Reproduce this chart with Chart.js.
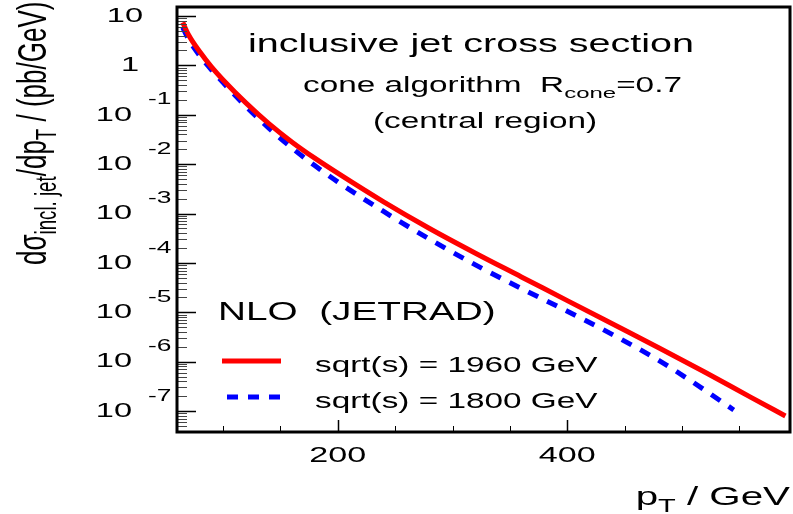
<!DOCTYPE html>
<html><head><meta charset="utf-8">
<script src="https://cdn.jsdelivr.net/npm/chart.js@4/dist/chart.umd.min.js"></script>
<style>html,body{margin:0;padding:0;background:#fff}canvas{display:block}</style>
</head><body>
<canvas id="c" width="793" height="514"></canvas>
<script>
// ---- data ----
const ptRed   = [65, 70, 80, 90, 100, 120, 140, 160, 180, 200, 240, 280, 320, 360, 400, 440, 480, 520, 560, 590];
const xsecRed = [7.41, 4.17, 1.86, 0.933, 0.513, 0.174, 0.0661, 0.0282, 0.0132, 6.55e-3, 1.72e-3, 4.97e-4, 1.57e-4, 5.20e-5, 1.72e-5, 5.70e-6, 1.89e-6, 6.08e-7, 1.89e-7, 7.94e-8];
const ptBlue   = [65, 70, 80, 90, 100, 120, 140, 160, 180, 200, 240, 280, 320, 360, 400, 440, 480, 520, 545];
const xsecBlue = [5.89, 3.39, 1.55, 0.813, 0.452, 0.148, 0.0537, 0.0214, 9.33e-3, 4.37e-3, 1.10e-3, 3.02e-4, 9.12e-5, 3.02e-5, 1.05e-5, 3.47e-6, 1.05e-6, 2.63e-7, 1.05e-7];
const seriesLabels = ['sqrt(s) = 1960 GeV', 'sqrt(s) = 1800 GeV'];
const legendHeader = 'NLO  (JETRAD)';
const xTickLabels = [200, 400];
const xMinorTicks = [100, 150, 250, 300, 350, 450, 500, 550];
const yDecades = [1, 0, -1, -2, -3, -4, -5, -6, -7];
const xRange = [60, 594];
const yRange = [3.76e-8, 15.2];

const FONT = '"Liberation Sans", Arial, Helvetica, sans-serif';
const SX = 1.55; // horizontal stretch of the reference text

function f(sz){ return sz + 'px ' + FONT; }
function stretchedText(ctx, str, x, y, sz, align, base){
  ctx.save();
  ctx.font = f(sz);
  ctx.textBaseline = base || 'alphabetic';
  const w = ctx.measureText(str).width * SX;
  let sx = x;
  if (align === 'right') sx = x - w; else if (align === 'center') sx = x - w/2;
  ctx.translate(sx, y); ctx.scale(SX, 1);
  ctx.textAlign = 'left';
  ctx.fillText(str, 0, 0);
  ctx.restore();
  return w;
}
function richText(ctx, segs, x, y, sz, align){
  ctx.save();
  let total = 0;
  const ws = segs.map(s => { ctx.font = f(s[1] ? sz*0.72 : sz); const w = ctx.measureText(s[0]).width*SX; total += w; return w; });
  let cx = x;
  if (align === 'right') cx = x - total; else if (align === 'center') cx = x - total/2;
  segs.forEach((s,i) => {
    const ssz = s[1] ? sz*0.72 : sz;
    ctx.save(); ctx.font = f(ssz); ctx.textBaseline='alphabetic'; ctx.textAlign='left';
    ctx.translate(cx, y + (s[1] ? sz*0.26 : 0)); ctx.scale(SX,1);
    ctx.fillText(s[0], 0, 0); ctx.restore();
    cx += ws[i];
  });
  ctx.restore();
}

const decor = {
  id: 'decor',
  afterDraw(chart){
    const ctx = chart.ctx, a = chart.chartArea;
    const xs = chart.scales.x, ys = chart.scales.y;
    ctx.save();
    ctx.fillStyle = '#000';
    // ticks
    ctx.strokeStyle = '#000';
    ctx.lineWidth = 1.5;
    yDecades.forEach(e => {
      const py = Math.round(ys.getPixelForValue(Math.pow(10, e))) + 0.5;
      ctx.beginPath(); ctx.moveTo(a.left, py); ctx.lineTo(a.left + 19, py); ctx.stroke();
    });
    ctx.lineWidth = 1; ctx.strokeStyle = '#444';
    for (let d = -8; d <= 1; d++) {
      for (let m = 2; m <= 9; m++) {
        const v = m * Math.pow(10, d);
        if (v < yRange[0] || v > yRange[1]) continue;
        const py = Math.round(ys.getPixelForValue(v)) + 0.5;
        ctx.beginPath(); ctx.moveTo(a.left, py); ctx.lineTo(a.left + 10, py); ctx.stroke();
      }
    }
    ctx.strokeStyle = '#000'; ctx.lineWidth = 1.5;
    xTickLabels.forEach(v => {
      const px = Math.round(xs.getPixelForValue(v)) + 0.5;
      ctx.beginPath(); ctx.moveTo(px, a.bottom); ctx.lineTo(px, a.bottom - 12); ctx.stroke();
    });
    ctx.lineWidth = 1;
    xMinorTicks.forEach(v => {
      const px = Math.round(xs.getPixelForValue(v)) + 0.5;
      ctx.beginPath(); ctx.moveTo(px, a.bottom); ctx.lineTo(px, a.bottom - 6); ctx.stroke();
    });
    // frame
    ctx.lineWidth = 3; ctx.strokeStyle = '#000';
    ctx.strokeRect(a.left, a.top, a.right - a.left, a.bottom - a.top);

    // y tick labels
    yDecades.forEach(e => {
      const py = ys.getPixelForValue(Math.pow(10, e));
      if (e === 1) stretchedText(ctx, '10', 143, py, 21, 'right', 'middle');
      else if (e === 0) stretchedText(ctx, '1', 139, py, 21, 'right', 'middle');
      else {
        stretchedText(ctx, '10', 132, py, 21, 'right', 'middle');
        stretchedText(ctx, String(e), 148, py - 15, 17, 'left', 'middle');
      }
    });
    // x tick labels
    xTickLabels.forEach(v => {
      stretchedText(ctx, String(v), xs.getPixelForValue(v), 456, 22, 'center', 'middle');
    });
    // x title
    richText(ctx, [['p',0],['T',1],[' / GeV',0]], 790, 505, 26, 'right');
    // y title (rotated)
    ctx.save();
    ctx.translate(46, 265); ctx.rotate(-Math.PI/2); ctx.scale(1, SX);
    let cx = 0; const F = 26;
    [['d\u03C3',0],['incl. jet',1],['/dp',0],['T',1],[' / (pb/GeV)',0]].forEach(s => {
      const sz = s[1] ? F*0.72 : F;
      ctx.font = f(sz); ctx.textAlign='left'; ctx.textBaseline='alphabetic';
      ctx.fillText(s[0], cx, s[1] ? F*0.26 : 0);
      cx += ctx.measureText(s[0]).width;
    });
    ctx.restore();

    // annotations
    stretchedText(ctx, 'inclusive jet cross section', 248, 52, 25.5, 'left');
    richText(ctx, [['cone algorithm  R',0],['cone',1],['=0.7',0]], 303, 92, 21.5, 'left');
    stretchedText(ctx, '(central region)', 373, 128, 21.5, 'left');
    stretchedText(ctx, legendHeader, 218, 320, 25, 'left');

    // legend
    const ds = chart.data.datasets;
    const rows = [361, 397];
    ds.forEach((d, i) => {
      ctx.save();
      ctx.strokeStyle = d.borderColor; ctx.lineWidth = d.borderWidth;
      ctx.setLineDash(d.borderDash || []);
      ctx.beginPath(); ctx.moveTo(i === 0 ? 222 : 227, rows[i]); ctx.lineTo(281, rows[i]); ctx.stroke();
      ctx.restore();
      stretchedText(ctx, d.label, 315, rows[i] + 11, 21.5, 'left');
    });
    ctx.restore();
  }
};

new Chart(document.getElementById('c'), {
  type: 'line',
  data: {
    datasets: [
      { label: seriesLabels[0], data: ptRed.map((x,i)=>({x, y: xsecRed[i]})), borderColor: '#ff0000', borderWidth: 5, pointRadius: 0, cubicInterpolationMode: 'monotone', fill: false },
      { label: seriesLabels[1], data: ptBlue.map((x,i)=>({x, y: xsecBlue[i]})), borderColor: '#0000ff', borderWidth: 5, borderDash: [11, 10], pointRadius: 0, cubicInterpolationMode: 'monotone', fill: false }
    ]
  },
  options: {
    responsive: false, animation: false,
    layout: { padding: { left: 177, top: 7, right: 3, bottom: 82 } },
    plugins: { legend: { display: false }, tooltip: { enabled: false } },
    scales: {
      x: { type: 'linear', display: false, min: xRange[0], max: xRange[1] },
      y: { type: 'logarithmic', display: false, min: yRange[0], max: yRange[1] }
    }
  },
  plugins: [decor]
});
</script>
</body></html>
